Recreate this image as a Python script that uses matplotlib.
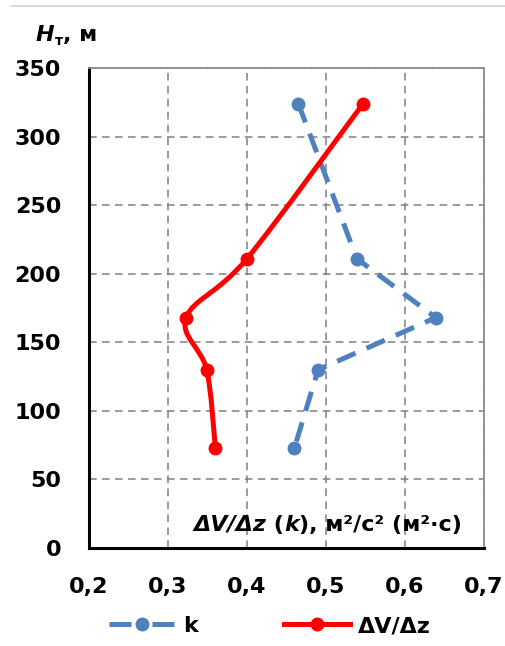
import numpy as np
import matplotlib
matplotlib.use("Agg")
import matplotlib.pyplot as plt
from matplotlib.path import Path
from matplotlib.patches import PathPatch
from matplotlib.lines import Line2D

plt.rcParams['font.family'] = ['DejaVu Sans']
plt.rcParams['font.weight'] = 'bold'

# data
heights = [324, 211, 168, 130, 73]
k_vals = [0.465, 0.539, 0.639, 0.490, 0.460]
dv_vals = [0.547, 0.400, 0.323, 0.349, 0.360]

x_ticks = [0.2, 0.3, 0.4, 0.5, 0.6, 0.7]
x_labels = ['0,2', '0,3', '0,4', '0,5', '0,6', '0,7']
y_ticks = [0, 50, 100, 150, 200, 250, 300, 350]

BLUE = '#4f81bd'
RED = '#ff0000'
W, H = 505, 646
FS = 16


def smooth_path(xs, ys):
    # Catmull-Rom style bezier, like Excel's "smoothed line"
    pts = np.column_stack([xs, ys]).astype(float)
    n = len(pts)
    verts = [pts[0]]
    codes = [Path.MOVETO]
    for i in range(n - 1):
        p0 = pts[i - 1] if i > 0 else pts[i]
        p1 = pts[i]
        p2 = pts[i + 1]
        p3 = pts[i + 2] if i + 2 < n else pts[i + 1]
        verts += [p1 + (p2 - p0) / 6, p2 - (p3 - p1) / 6, p2]
        codes += [Path.CURVE4] * 3
    return Path(verts, codes)


fig = plt.figure(figsize=(W / 100, H / 100), dpi=100)
ax = fig.add_axes([89 / W, 1 - 548 / H, (484 - 89) / W, (548 - 68) / H])

ax.set_xlim(0.2, 0.7)
ax.set_ylim(0, 350)
ax.set_xticks(x_ticks)
ax.set_xticklabels(x_labels)
ax.set_yticks(y_ticks)
ax.tick_params(length=0, labelsize=FS)
ax.tick_params(axis='y', pad=20)
ax.tick_params(axis='x', pad=21)

ax.grid(True, color='#808080', linestyle=(0, (5, 3.5)), linewidth=1.1)
ax.set_axisbelow(True)
for s in ['top', 'right']:
    ax.spines[s].set_color('#8c8c8c')
    ax.spines[s].set_linewidth(1.3)
for s in ['left', 'bottom']:
    ax.spines[s].set_color('black')
    ax.spines[s].set_linewidth(2.2)

# k series (dashed, straight)
ax.plot(k_vals, heights, color=BLUE, lw=3.6, dashes=(4, 2.4),
        marker='o', ms=9, solid_capstyle='round', dash_capstyle='butt', zorder=3)

# dV/dz series (smoothed)
ax.add_patch(PathPatch(smooth_path(dv_vals, heights), fill=False, edgecolor=RED,
                       lw=3.6, capstyle='round', joinstyle='round', zorder=4))
ax.plot(dv_vals, heights, 'o', color=RED, ms=9, zorder=5)

# legend
handles = [
    Line2D([], [], color=BLUE, lw=3.6, dashes=(4.4, 4.2), marker='o', ms=9),
    Line2D([], [], color=RED, lw=3.6, marker='o', ms=9),
]
fig.legend(handles, ['k', 'ΔV/Δz'], loc='center', bbox_to_anchor=(0.535, 1 - 626 / H),
           ncol=2, frameon=False, fontsize=FS, handlelength=2.95, columnspacing=3.9,
           handletextpad=0.36)

# thin border line on top of chart area
fig.add_artist(Line2D([12 / W, 1], [1 - 6 / H, 1 - 6 / H], color='#d9d9d9', lw=1.5))


def text_run(x_px, base_px, pieces):
    # pieces: (text, size, style, dy_px); placed one after another on a baseline
    fig.canvas.draw()
    r = fig.canvas.get_renderer()
    x = x_px
    for txt, size, style, dy in pieces:
        t = fig.text(x / W, 1 - (base_px + dy) / H, txt, fontsize=size,
                     fontstyle=style, fontweight='bold', va='baseline', ha='left')
        x += t.get_window_extent(r).width


text_run(36, 41, [('H', FS, 'italic', 0), ('т', 10, 'normal', 4), (', м', FS, 'normal', 0)])
text_run(193, 531, [('ΔV/Δz', FS, 'italic', 0), (' (', FS, 'normal', 0),
                    ('k', FS, 'italic', 0), ('), м²/с² (м²·с)', FS, 'normal', 0)])

fig.savefig('out.png', dpi=100)
